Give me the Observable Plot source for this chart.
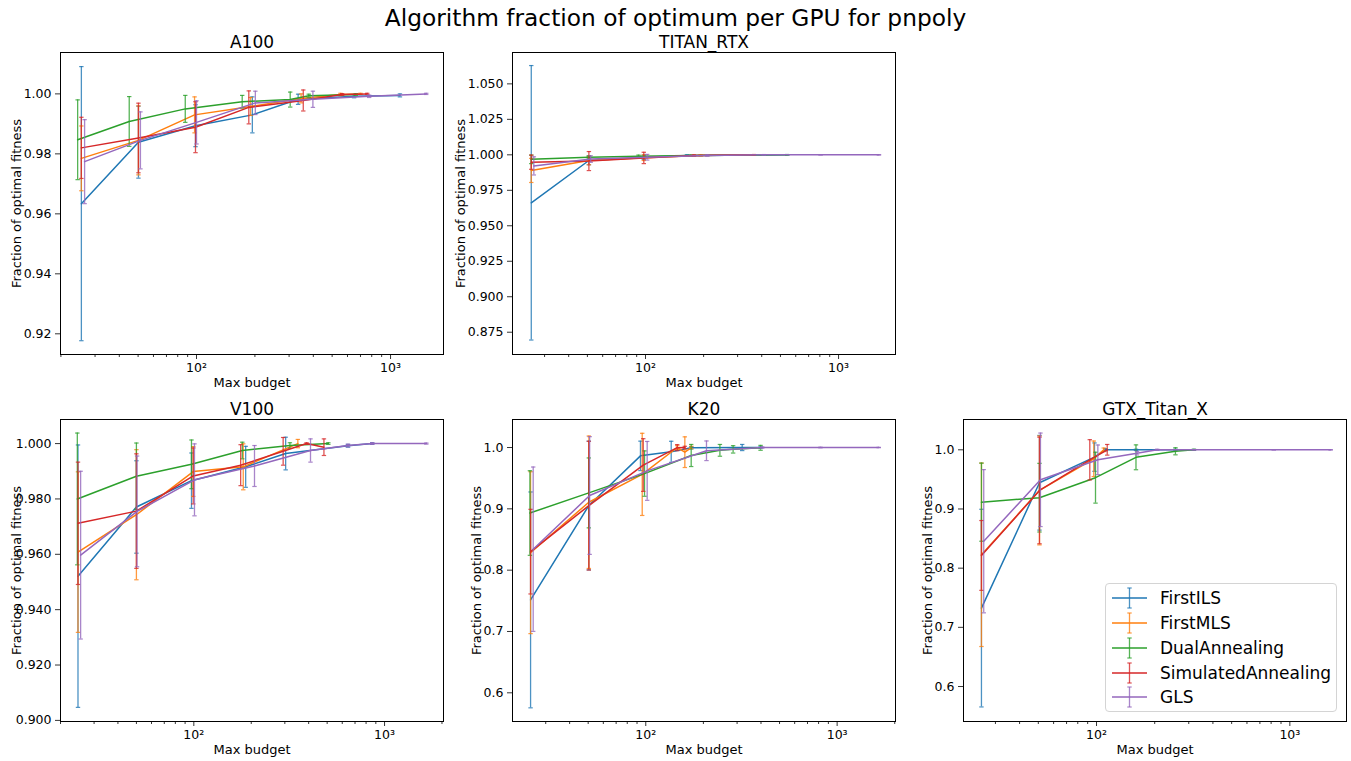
<!DOCTYPE html>
<html><head><meta charset="utf-8">
<script src="https://cdn.jsdelivr.net/npm/d3@7"></script>
<script src="https://cdn.jsdelivr.net/npm/@observablehq/plot@0.6"></script>
<style>
body{margin:0;background:#fff;font-family:"DejaVu Sans",sans-serif;}
#fig{position:relative;width:1351px;height:761px;overflow:hidden;background:#fff;}
#fig svg.pn{position:absolute;}
#suptitle{position:absolute;left:0;width:1351px;top:3px;text-align:center;font-size:23.3px;line-height:30px;color:#000;}
#legend{position:absolute;left:1105px;top:583px;width:232px;height:129px;border:1px solid #d4d4d4;border-radius:4px;background:rgba(255,255,255,0.85);box-sizing:border-box;padding-top:2px;}
#legend .row{display:flex;align-items:center;height:24.75px;font-size:17px;}
#legend svg{margin-left:6px;margin-right:13px;}
</style></head><body><div id="fig"><div id="suptitle">Algorithm fraction of optimum per GPU for pnpoly</div></div>
<script>
const algorithms = ["FirstILS","FirstMLS","DualAnnealing","SimulatedAnnealing","GLS"];
const colors = ["#1f77b4","#ff7f0e","#2ca02c","#d62728","#9467bd"];
const gpus = ["A100","TITAN_RTX","V100","K20","GTX_Titan_X"];
const xMajorTicks = [100, 1000];
const xMajorLabels = ["10²", "10³"];

// [budget, mean fraction, std]
const A100_FirstILS = [[25.5,0.9634,0.0457],[50.2,0.9839,0.012],[98.8,0.9894,0.007],[194,0.993,0.006],[334,0.9982,0.0017],[649,0.9992,0.0005],[1118,0.9995,0.0005]];
const A100_FirstMLS = [[25.5,0.9785,0.0108],[50.2,0.9845,0.0115],[97.7,0.993,0.006],[190,0.9958,0.003],[346,0.9985,0.0015],[552,0.9998,0.0004],[700,1.0,0.0002]];
const A100_DualAnnealing = [[24.4,0.9847,0.0133],[45,0.9908,0.0083],[87.5,0.995,0.0045],[172,0.9974,0.0021],[304,0.9981,0.0025],[379,0.9994,0.0005],[662,0.9998,0.0003]];
const A100_SimulatedAnnealing = [[25.5,0.982,0.0102],[50.2,0.9853,0.0116],[98.8,0.9889,0.0085],[186,0.9955,0.0055],[355,0.9978,0.0035],[563,0.9998,0.0003],[758,1.0,0.0002]];
const A100_GLS = [[26.5,0.9774,0.014],[51.4,0.9845,0.0095],[100,0.9905,0.0072],[201,0.997,0.0039],[398,0.9982,0.0027],[776,0.9992,0.0004],[1527,1.0,0.0002]];

const TITAN_RTX_FirstILS = [[25.6,0.9662,0.0967],[50.9,0.996,0.003],[98,0.9983,0.0015],[164,0.9996,0.0005],[542,1.0,0.0002]];
const TITAN_RTX_FirstMLS = [[25.6,0.989,0.0085],[50.9,0.996,0.003],[98,0.998,0.002],[193,0.9995,0.0005],[364,1.0,0.0002]];
const TITAN_RTX_DualAnnealing = [[25.6,0.9968,0.003],[50.9,0.9983,0.001],[92,0.999,0.0008],[171,0.9995,0.0004],[542,1.0,0.0002]];
const TITAN_RTX_SimulatedAnnealing = [[25.6,0.9948,0.005],[50.9,0.9956,0.0067],[98,0.9978,0.004],[178,0.9995,0.0005],[364,1.0,0.0002]];
const TITAN_RTX_GLS = [[26.4,0.9922,0.0064],[52,0.997,0.0023],[102,0.9983,0.002],[209,0.9995,0.0005],[410,1.0,0.0002],[807,1.0,0.0001],[1619,1.0,0.0001]];

const V100_FirstILS = [[24.7,0.9521,0.0474],[50,0.9771,0.0167],[97.2,0.9866,0.01],[187,0.9916,0.0074],[303,0.9964,0.0059],[643,0.9992,0.0005],[861,1.0,0.0003]];
const V100_FirstMLS = [[24.7,0.9608,0.029],[50,0.9743,0.0235],[99.3,0.9899,0.009],[181.6,0.9916,0.0083],[351,1.0,0.0015]];
const V100_DualAnnealing = [[24.5,0.98,0.0238],[50,0.9882,0.012],[97.2,0.9925,0.0088],[179.5,0.9975,0.003],[319,0.9993,0.001],[507,1.0,0.0003]];
const V100_SimulatedAnnealing = [[24.7,0.9712,0.0221],[50,0.9756,0.0207],[99.3,0.9883,0.0101],[176,0.9922,0.0074],[294,0.9972,0.005],[390,1.0,0.0003],[481,0.9987,0.003]];
const V100_GLS = [[25.5,0.9597,0.0303],[50.4,0.9755,0.02],[100.8,0.9869,0.013],[208,0.9919,0.0074],[409,0.9975,0.0042],[643,0.9993,0.0005],[861,1.0,0.0003],[1655,1.0,0.0002]];

const K20_FirstILS = [[25,0.7515,0.176],[50.4,0.9054,0.105],[93.8,0.9864,0.024],[135.8,0.993,0.0172],[172.7,0.9995,0.002],[319,1.0,0.005],[398,1.0,0.001]];
const K20_FirstMLS = [[25,0.8285,0.132],[50.4,0.9108,0.108],[95.8,0.9562,0.067],[146,1.0,0.003],[160,0.9924,0.025],[173,1.0,0.002]];
const K20_DualAnnealing = [[24.8,0.8932,0.069],[50.4,0.926,0.057],[98.5,0.9575,0.037],[172.7,0.987,0.018],[244,0.9954,0.0096],[286,0.997,0.006],[398,0.9995,0.004]];
const K20_SimulatedAnnealing = [[25,0.8302,0.069],[50.4,0.9052,0.105],[97,0.9714,0.043],[146,0.9998,0.005],[160,1.0,0.002]];
const K20_GLS = [[25.8,0.8342,0.134],[50.9,0.9217,0.096],[101.7,0.9619,0.048],[207.6,0.9947,0.016],[406,1.0,0.001],[818,1.0,0.0005],[1649,1.0,0.0003]];

const GTX_Titan_X_FirstILS = [[25.4,0.7325,0.167],[50.7,0.9443,0.08],[97.6,0.9876,0.024],[111,1.0,0.002],[160,1.0,0.001],[256,1.0,0.001],[319,1.0,0.0005]];
const GTX_Titan_X_FirstMLS = [[25.4,0.8226,0.155],[50.7,0.9313,0.092],[96.8,0.9848,0.03],[109,1.0,0.003]];
const GTX_Titan_X_DualAnnealing = [[25.4,0.9115,0.066],[50.7,0.9191,0.058],[98.8,0.9529,0.043],[160,0.9873,0.021],[256,0.9975,0.006],[319,1.0,0.001]];
const GTX_Titan_X_SimulatedAnnealing = [[25.4,0.8215,0.059],[50.7,0.9313,0.09],[92.3,0.9831,0.034],[113.6,1.0,0.009]];
const GTX_Titan_X_GLS = [[26.1,0.8455,0.121],[51.3,0.9493,0.079],[101.6,0.9831,0.025],[162,0.9943,0.003],[206,1.0,0.001],[319,1.0,0.0005],[826,1.0,0.0003],[1626,1.0,0.0002]];

const A100_yTicks = [0.92,0.94,0.96,0.98,1.00];
const TITAN_RTX_yTicks = [0.875,0.900,0.925,0.950,0.975,1.000,1.025,1.050];
const V100_yTicks = [0.90,0.92,0.94,0.96,0.98,1.00];
const K20_yTicks = [0.6,0.7,0.8,0.9,1.0];
const GTX_Titan_X_yTicks = [0.6,0.7,0.8,0.9,1.0];

const seriesBy = {
  A100: [A100_FirstILS,A100_FirstMLS,A100_DualAnnealing,A100_SimulatedAnnealing,A100_GLS],
  TITAN_RTX: [TITAN_RTX_FirstILS,TITAN_RTX_FirstMLS,TITAN_RTX_DualAnnealing,TITAN_RTX_SimulatedAnnealing,TITAN_RTX_GLS],
  V100: [V100_FirstILS,V100_FirstMLS,V100_DualAnnealing,V100_SimulatedAnnealing,V100_GLS],
  K20: [K20_FirstILS,K20_FirstMLS,K20_DualAnnealing,K20_SimulatedAnnealing,K20_GLS],
  GTX_Titan_X: [GTX_Titan_X_FirstILS,GTX_Titan_X_FirstMLS,GTX_Titan_X_DualAnnealing,GTX_Titan_X_SimulatedAnnealing,GTX_Titan_X_GLS]
};

// layout (axes box in page pixels) and scale config
const layout = {
  A100:        {L:60,  T:52,  xd:[1.299,3.273], yd:[0.9131,1.0138], yt:A100_yTicks, fmt:".2f", yoff:49},
  TITAN_RTX:   {L:512, T:52,  xd:[1.311,3.295], yd:[0.8593,1.0721], yt:TITAN_RTX_yTicks, fmt:".3f", yoff:57},
  V100:        {L:60,  T:419, xd:[1.301,3.309], yd:[0.8996,1.0087], yt:V100_yTicks, fmt:".3f", yoff:49},
  K20:         {L:512, T:419, xd:[1.3035,3.305], yd:[0.5532,1.0457], yt:K20_yTicks, fmt:".1f", yoff:41},
  GTX_Titan_X: {L:963, T:419, xd:[1.312,3.293], yd:[0.5409,1.0512], yt:GTX_Titan_X_yTicks, fmt:".1f", yoff:41}
};
const AW = 383, AH = 302;
const mL = 70, mT = 34, mR = 12, mB = 46;

const cap = {draw(ctx, size){ const r = Math.sqrt(size/Math.PI); ctx.moveTo(-r,0); ctx.lineTo(r,0); }};

const fig = document.getElementById("fig");

gpus.forEach(g => {
  const cfg = layout[g];
  const xdom = [Math.pow(10,cfg.xd[0]), Math.pow(10,cfg.xd[1])];
  const minor = [];
  for (let k = 1; k <= 3; k++) for (let m = 2; m <= 9; m++) {
    const v = m*Math.pow(10,k);
    if (v >= xdom[0] && v <= xdom[1]) minor.push(v);
  }
  const marks = [];
  seriesBy[g].forEach((s, i) => {
    const d = s.map(([x,y,e]) => ({x, y, e}));
    const c = colors[i];
    marks.push(Plot.ruleX(d, {x:"x", y1: v => v.y - v.e, y2: v => v.y + v.e, stroke: c, strokeWidth: 1.3, strokeOpacity: 0.8}));
    marks.push(Plot.dot(d, {x:"x", y: v => v.y + v.e, symbol: cap, r: 2.2, fill: "none", stroke: c, strokeWidth: 1.2, strokeOpacity: 0.8}));
    marks.push(Plot.dot(d, {x:"x", y: v => v.y - v.e, symbol: cap, r: 2.2, fill: "none", stroke: c, strokeWidth: 1.2, strokeOpacity: 0.8}));
    marks.push(Plot.line(d, {x:"x", y:"y", stroke: c, strokeWidth: 1.5}));
  });
  const svg = Plot.plot({
    width: AW + mL + mR, height: AH + mT + mB,
    marginLeft: mL, marginTop: mT, marginRight: mR, marginBottom: mB,
    x: {type: "log", domain: xdom},
    y: {domain: cfg.yd},
    style: {fontFamily: "DejaVu Sans", fontSize: "12.5px", background: "transparent", color: "black", overflow: "visible"},
    marks: [
      Plot.axisX(minor, {tickSize: 3, tickFormat: () => "", label: null, strokeWidth: 0.8}),
      Plot.axisX(xMajorTicks, {tickSize: 5, tickPadding: 4, tickFormat: v => xMajorLabels[xMajorTicks.indexOf(v)], label: null, strokeWidth: 0.8}),
      Plot.axisY(cfg.yt, {tickSize: 5, tickPadding: 4, tickFormat: d3.format(cfg.fmt), label: null, strokeWidth: 0.8}),
      Plot.text(["Max budget"], {frameAnchor: "bottom", lineAnchor: "middle", dy: 28, fontSize: 13}),
      Plot.text(["Fraction of optimal fitness"], {frameAnchor: "left", textAnchor: "middle", lineAnchor: "middle", rotate: -90, dx: -cfg.yoff + 5, fontSize: 13}),
      ...marks,
      Plot.frame({stroke: "black", strokeWidth: 1}),
      Plot.text([g], {frameAnchor: "top", lineAnchor: "bottom", dy: -5, fontSize: 17})
    ]
  });
  svg.classList.add("pn");
  svg.style.left = (cfg.L - mL) + "px";
  svg.style.top = (cfg.T - mT) + "px";
  svg.style.maxWidth = "none";
  fig.appendChild(svg);
});

// legend
const legend = document.createElement("div");
legend.id = "legend";
algorithms.forEach((a, i) => {
  const row = document.createElement("div");
  row.className = "row";
  const c = colors[i];
  row.innerHTML = `<svg width="35" height="22"><line x1="0" x2="35" y1="11" y2="11" stroke="${c}" stroke-width="1.5"/><line x1="17.5" x2="17.5" y1="1" y2="21" stroke="${c}" stroke-width="1.3" stroke-opacity="0.8"/><line x1="15.3" x2="19.7" y1="1" y2="1" stroke="${c}" stroke-width="1.2" stroke-opacity="0.8"/><line x1="15.3" x2="19.7" y1="21" y2="21" stroke="${c}" stroke-width="1.2" stroke-opacity="0.8"/></svg><span>${a}</span>`;
  legend.appendChild(row);
});
fig.appendChild(legend);
</script>
</body></html>
